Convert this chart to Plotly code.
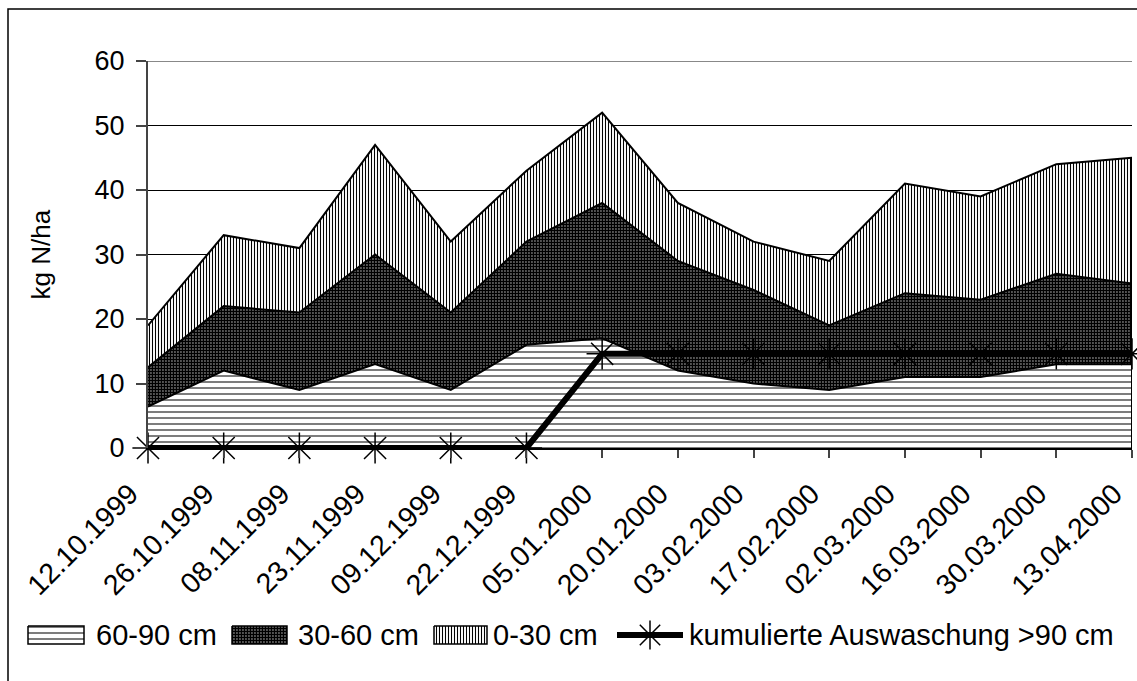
import plotly.graph_objects as go

# Sampling dates
dates = ["12.10.1999", "26.10.1999", "08.11.1999", "23.11.1999", "09.12.1999",
         "22.12.1999", "05.01.2000", "20.01.2000", "03.02.2000", "17.02.2000",
         "02.03.2000", "16.03.2000", "30.03.2000", "13.04.2000"]

# Mineral N per soil layer (kg N/ha), stacked
n_60_90 = [6.4, 12, 9, 13, 9, 16, 17, 12, 10, 9, 11, 11, 13, 13]
n_30_60 = [6.1, 10, 12, 17, 12, 16, 21, 17, 14.5, 10, 13, 12, 14, 12.5]
n_0_30 = [6.5, 11, 10, 17, 11, 11, 14, 9, 7.5, 10, 17, 16, 17, 19.5]

# Cumulative leaching below 90 cm (kg N/ha)
leaching = [0, 0, 0, 0, 0, 0, 14.6, 14.6, 14.6, 14.6, 14.6, 14.6, 14.6, 14.6]

legend_names = ["60-90 cm", "30-60 cm", "0-30 cm", "kumulierte Auswaschung >90 cm"]

FONT = "Liberation Sans, Arial, sans-serif"
FS_TICK = 27
FS_XTICK = 28.5
FS_LEG = 29
FS_TITLE = 26
W, H = 1137, 681

# Fill patterns for the three soil layers
patterns = [
    dict(shape="-", size=6, solidity=0.17),
    dict(shape=".", size=3, solidity=0.8),
    dict(shape="|", size=3, solidity=0.36),
]

# Main plot area in pixels
PX0, PX1, PY_TOP, PY_BOT = 148, 1132, 61, 448

fig = go.Figure()

for name, vals, pat in zip(legend_names[:3], [n_60_90, n_30_60, n_0_30], patterns):
    fig.add_trace(go.Scatter(
        x=dates, y=vals, name=name, mode="lines", stackgroup="soil",
        line=dict(color="black", width=2),
        fillpattern=dict(fgcolor="black", bgcolor="white", fillmode="replace", **pat),
        fillcolor="white", showlegend=False,
    ))

fig.add_trace(go.Scatter(
    x=dates, y=leaching, name=legend_names[3],
    mode="lines+markers",
    line=dict(color="black", width=6),
    marker=dict(symbol="asterisk-open", size=26, color="black",
                line=dict(color="black", width=1.5)),
    cliponaxis=False, showlegend=False,
))

# Legend drawn on a pixel-scaled helper axis pair
LEG_Y = 635
box_x = [(28, 84), (232, 287), (434, 487)]
text_x = [94, 296, 491, 687]
for (bx0, bx1), pat, name in zip(box_x, patterns, legend_names[:3]):
    fig.add_trace(go.Scatter(
        x=[bx0, bx1, bx1, bx0, bx0], y=[LEG_Y - 9, LEG_Y - 9, LEG_Y + 9, LEG_Y + 9, LEG_Y - 9],
        xaxis="x2", yaxis="y2", mode="lines", fill="toself",
        line=dict(color="black", width=1.5),
        fillpattern=dict(fgcolor="black", bgcolor="white", fillmode="replace", **pat),
        fillcolor="white", showlegend=False, hoverinfo="skip",
    ))
fig.add_trace(go.Scatter(
    x=[617, 683], y=[LEG_Y, LEG_Y], xaxis="x2", yaxis="y2", mode="lines",
    line=dict(color="black", width=6), showlegend=False, hoverinfo="skip",
))
fig.add_trace(go.Scatter(
    x=[650], y=[LEG_Y], xaxis="x2", yaxis="y2", mode="markers",
    marker=dict(symbol="asterisk-open", size=24, color="black",
                line=dict(color="black", width=1.5)),
    showlegend=False, hoverinfo="skip",
))

annotations = [
    dict(x=tx, y=LEG_Y, xref="x2", yref="y2", text=name, showarrow=False,
         xanchor="left", yanchor="middle", font=dict(family=FONT, size=FS_LEG))
    for tx, name in zip(text_x, legend_names)
]
annotations.append(dict(
    x=40, y=(PY_TOP + PY_BOT) / 2, xref="x2", yref="y2", text="kg N/ha",
    textangle=-90, showarrow=False, xanchor="center", yanchor="middle",
    font=dict(family=FONT, size=FS_TITLE),
))

total_last = n_60_90[-1] + n_30_60[-1] + n_0_30[-1]

fig.update_layout(
    width=W, height=H,
    margin=dict(l=0, r=0, t=0, b=0),
    paper_bgcolor="white", plot_bgcolor="rgba(0,0,0,0)",
    font=dict(family=FONT, size=FS_TICK, color="black"),
    showlegend=False,
    xaxis=dict(
        domain=[PX0 / W, PX1 / W], anchor="y",
        type="category", range=[0, 13], tickangle=-45,
        ticks="outside", ticklen=8, tickcolor="#444", tickwidth=1.5,
        ticklabelshift=-18, ticklabelstandoff=8,
        showgrid=False, showline=True, linecolor="black", linewidth=1.5,
        tickfont=dict(family=FONT, size=FS_XTICK), zeroline=False, automargin=False,
    ),
    yaxis=dict(
        domain=[1 - PY_BOT / H, 1 - PY_TOP / H], anchor="x",
        range=[0, 60], dtick=10, ticks="outside", ticklen=10, tickcolor="#444",
        tickwidth=1.5, ticklabelstandoff=6,
        showgrid=True, gridcolor="black", gridwidth=1,
        showline=True, linecolor="#444", linewidth=2, zeroline=False,
        tickfont=dict(family=FONT, size=FS_TICK), automargin=False,
    ),
    xaxis2=dict(domain=[0, 1], range=[0, W], visible=False, anchor="y2",
                fixedrange=True),
    yaxis2=dict(domain=[0, 1], range=[H, 0], visible=False, anchor="x2",
                fixedrange=True),
    annotations=annotations,
    shapes=[
        # top gridline of the value axis
        dict(type="line", xref="x domain", yref="y", x0=0, x1=1, y0=60, y1=60,
             line=dict(color="#888", width=2)),
        # closing edge of the stacked areas at the last date
        dict(type="line", xref="x", yref="y", x0=dates[-1], x1=dates[-1],
             y0=0, y1=total_last, line=dict(color="black", width=2)),
        # chart frame
        dict(type="rect", xref="paper", yref="paper",
             x0=8 / W, x1=1.01, y0=-0.01, y1=1 - 9 / H,
             line=dict(color="black", width=1.5), fillcolor="rgba(0,0,0,0)",
             layer="below"),
    ],
)

fig.write_html("out.html")
